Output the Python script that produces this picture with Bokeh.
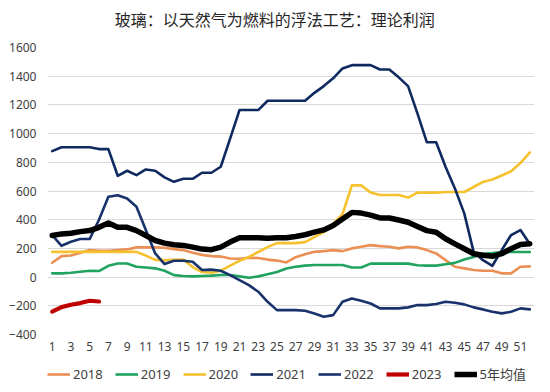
from bokeh.plotting import figure
from bokeh.layouts import column
from bokeh.models import Range1d, FixedTicker, Legend, LegendItem, Label
from bokeh.embed import file_html
from bokeh.resources import INLINE

weeks = list(range(1, 53))
x_tick_labels = [1, 3, 5, 7, 9, 11, 13, 15, 17, 19, 21, 23, 25, 27, 29, 31, 33, 35, 37, 39, 41, 43, 45, 47, 49, 51]
y_ticks = [-400, -200, 0, 200, 400, 600, 800, 1000, 1200, 1400, 1600]
title_text = "玻璃：以天然气为燃料的浮法工艺：理论利润"

s2018 = [100, 146, 150, 169, 188, 183, 183, 188, 193, 207, 207, 207, 205, 195, 188, 169, 155, 146, 143, 130,
         128, 135, 133, 122, 115, 102, 139, 160, 176, 181, 188, 181, 200, 211, 223, 216, 211, 200, 211, 207,
         188, 165, 118, 72, 61, 49, 44, 44, 26, 26, 72, 75]
s2019 = [26, 26, 30, 37, 44, 42, 79, 95, 95, 72, 67, 61, 44, 14, 8, 5, 8, 10, 15, 15,
         5, -5, 5, 20, 35, 60, 72, 80, 84, 84, 84, 84, 67, 67, 94, 94, 94, 94, 94, 83,
         80, 80, 90, 99, 122, 140, 163, 168, 175, 175, 175, 175]
s2020 = [176, 176, 176, 176, 176, 176, 176, 176, 176, 176, 150, 120, 117, 120, 122, 70, 35, 30, 45, 80,
         113, 140, 175, 209, 237, 237, 237, 244, 278, 313, 370, 439, 639, 639, 589, 572, 572, 572, 554, 589,
         589, 589, 593, 593, 593, 628, 663, 680, 708, 738, 795, 869]
s2021 = [878, 905, 905, 905, 905, 892, 892, 706, 741, 711, 750, 741, 695, 664, 685, 685, 727, 727, 769, 965,
         1164, 1164, 1164, 1229, 1229, 1229, 1229, 1229, 1284, 1331, 1385, 1454, 1477, 1477, 1477, 1447, 1447, 1392, 1331, 1141,
         940, 940, 769, 618, 444, 176, 118, 79, 188, 293, 328, 230]
s2022 = [293, 218, 246, 265, 265, 400, 560, 571, 548, 490, 328, 165, 91, 114, 114, 107, 49, 52, 44, 14,
         -21, -56, -102, -172, -230, -230, -230, -235, -253, -276, -265, -172, -149, -165, -184, -218, -218, -218, -211, -195,
         -195, -188, -172, -179, -190, -211, -225, -242, -253, -242, -218, -225]
s2023 = [-240, -209, -193, -181, -165, -170]
avg5 = [290, 301, 306, 317, 324, 347, 377, 347, 347, 324, 290, 255, 237, 225, 221, 209, 195, 191, 209, 244,
        274, 274, 274, 271, 274, 274, 283, 295, 313, 329, 359, 405, 451, 446, 432, 412, 412, 398, 382, 352,
        324, 313, 267, 232, 198, 163, 152, 145, 163, 198, 228, 232]

series_names = ["2018", "2019", "2020", "2021", "2022", "2023", "5年均值"]
series_vals = [s2018, s2019, s2020, s2021, s2022, s2023, avg5]
colors = ["#EB8F55", "#1FA35F", "#F5C12E", "#0F2A5E", "#18336B", "#C00000", "#000000"]
widths = [2.6, 2.6, 2.6, 2.6, 2.6, 4.2, 5.5]


def strip(h, xr, yr):
    f = figure(width=550, height=h, x_range=xr, y_range=yr,
               output_backend="svg", toolbar_location=None, min_border=0,
               x_axis_location=None, y_axis_location=None)
    f.outline_line_color = None
    f.background_fill_color = "white"
    f.border_fill_color = "white"
    f.grid.visible = False
    return f


# title strip
t = strip(30, Range1d(0, 1), Range1d(0, 1))
t.add_layout(Label(x=0.4667, y=0.4, text=title_text, text_align="center", text_baseline="middle",
                   text_font="Noto Sans CJK SC", text_font_size="16px", text_color="#262626"))

# main chart
p = figure(frame_width=487, frame_height=287, x_range=Range1d(0.5, 52.5), y_range=Range1d(-400, 1600),
           output_backend="svg", toolbar_location=None,
           min_border_left=47, min_border_right=16, min_border_top=17, min_border_bottom=24)
p.background_fill_color = "white"
p.border_fill_color = "white"
p.outline_line_color = None

for name, vals, c, w in zip(series_names, series_vals, colors, widths):
    p.line(weeks[:len(vals)], vals, line_color=c, line_width=w, line_join="round", line_cap="round")

p.xaxis.ticker = FixedTicker(ticks=x_tick_labels)
p.yaxis.ticker = FixedTicker(ticks=y_ticks)
for ax in (p.xaxis, p.yaxis):
    ax.axis_line_color = None
    ax.major_tick_line_color = None
    ax.minor_tick_line_color = None
    ax.major_tick_out = 0
    ax.major_tick_in = 0
    ax.major_label_text_font = "Noto Sans"
    ax.major_label_text_font_size = "12px"
    ax.major_label_text_color = "#404040"
p.xaxis.major_label_standoff = 7
p.yaxis.major_label_standoff = 11

p.xgrid.grid_line_color = None
p.ygrid.grid_line_color = "#D9D9D9"
p.ygrid.grid_line_width = 1

# legend strip (same series, drawn outside its visible ranges so only the legend shows)
q = strip(34, Range1d(-10, -9), Range1d(5000, 5001))
items = []
for name, vals, c, w in zip(series_names, series_vals, colors, widths):
    r = q.line(weeks[:len(vals)], vals, line_color=c, line_width=w)
    items.append(LegendItem(label=name, renderers=[r]))

legend = Legend(items=items, orientation="horizontal", location=(0, 9),
                glyph_width=23, glyph_height=16, label_height=16, label_standoff=3, spacing=12,
                padding=0, margin=0, border_line_color=None, background_fill_alpha=0,
                label_text_font="Noto Sans, Noto Sans CJK SC", label_text_font_size="13px",
                label_text_color="#404040")
q.add_layout(legend, "center")

open("out.html", "w").write(file_html(column(t, p, q, spacing=0), INLINE))
